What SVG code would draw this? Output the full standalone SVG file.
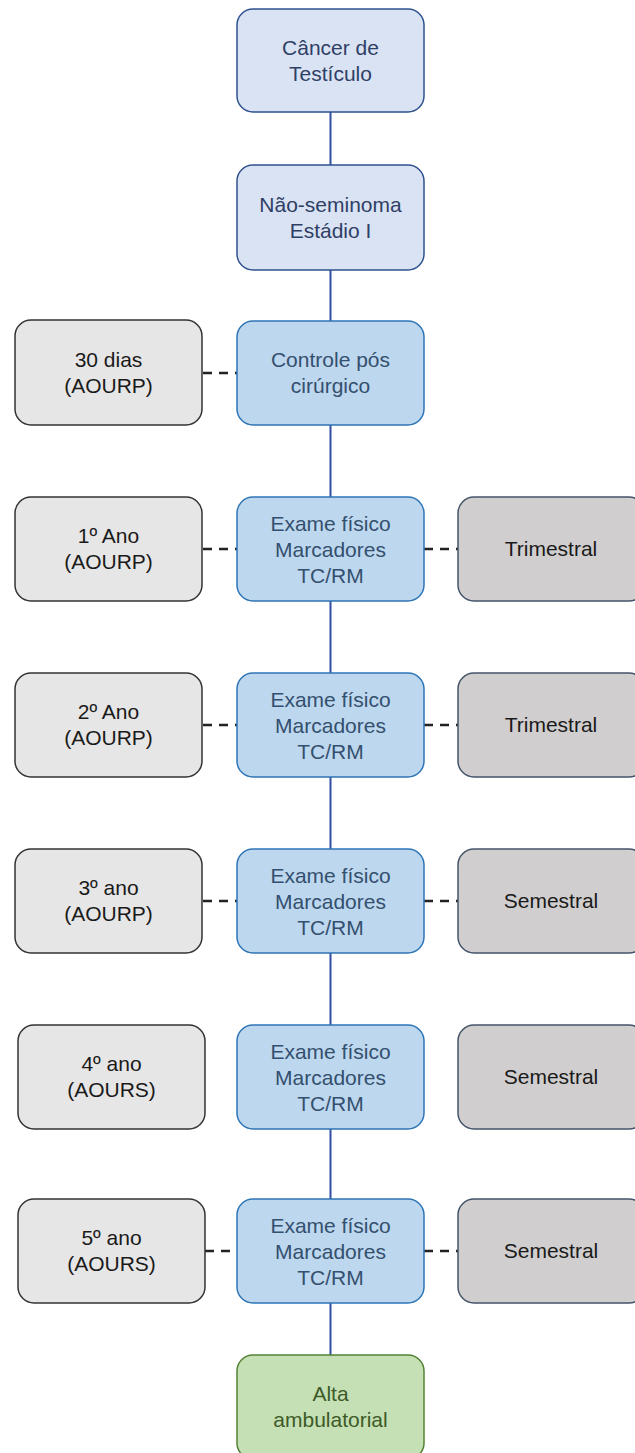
<svg xmlns="http://www.w3.org/2000/svg" width="635" height="1453" viewBox="0 0 635 1453">
<style>
text{font-family:"Liberation Sans",Arial,sans-serif;font-size:21px;text-anchor:middle}
.top rect{fill:#dae3f3;stroke:#2f528f;stroke-width:1.5}
.top text{fill:#2f3f66}
.mid rect{fill:#bdd7ee;stroke:#2e75b6;stroke-width:1.5}
.mid text{fill:#34506e}
.left rect{fill:#e7e6e6;stroke:#333333;stroke-width:1.5}
.left text{fill:#1a1a1a}
.right rect{fill:#d0cece;stroke:#44546a;stroke-width:1.5}
.right text{fill:#1a1a1a}
.end rect{fill:#c5e0b4;stroke:#548235;stroke-width:1.5}
.end text{fill:#3d5a28}
.v{stroke:#2f4f9f;stroke-width:2;fill:none}
.d{stroke:#222;stroke-width:2.5;stroke-dasharray:9 7;fill:none}
</style>
<g id="connectors">
<line class="v" x1="330.5" y1="112" x2="330.5" y2="1355"/>
<line class="d" x1="203" y1="373" x2="237" y2="373"/>
<line class="d" x1="203" y1="549" x2="237" y2="549"/>
<line class="d" x1="424" y1="549" x2="458" y2="549"/>
<line class="d" x1="203" y1="725" x2="237" y2="725"/>
<line class="d" x1="424" y1="725" x2="458" y2="725"/>
<line class="d" x1="203" y1="901" x2="237" y2="901"/>
<line class="d" x1="424" y1="901" x2="458" y2="901"/>
<line class="d" x1="205" y1="1251" x2="237" y2="1251"/>
<line class="d" x1="424" y1="1251" x2="458" y2="1251"/>
</g>
<g id="n1" class="top"><rect x="237" y="9" width="187" height="103" rx="16"/><text x="330.5" y="55">Câncer de</text><text x="330.5" y="81">Testículo</text></g>
<g id="n2" class="top"><rect x="237" y="165" width="187" height="105" rx="16"/><text x="330.5" y="212">Não-seminoma</text><text x="330.5" y="238">Estádio I</text></g>
<g id="n3" class="mid"><rect x="237" y="321" width="187" height="104" rx="16"/><text x="330.5" y="367">Controle pós</text><text x="330.5" y="393">cirúrgico</text></g>
<g id="l3" class="left"><rect x="15" y="320" width="187" height="105" rx="16"/><text x="108.5" y="367">30 dias</text><text x="108.5" y="393">(AOURP)</text></g>
<g id="n4" class="mid"><rect x="237" y="497" width="187" height="104" rx="16"/><text x="330.5" y="531">Exame físico</text><text x="330.5" y="557">Marcadores</text><text x="330.5" y="583">TC/RM</text></g>
<g id="l4" class="left"><rect x="15" y="497" width="187" height="104" rx="16"/><text x="108.5" y="543">1º Ano</text><text x="108.5" y="569">(AOURP)</text></g>
<g id="r4" class="right"><rect x="458" y="497" width="187" height="104" rx="16"/><text x="551" y="556">Trimestral</text></g>
<g id="n5" class="mid"><rect x="237" y="673" width="187" height="104" rx="16"/><text x="330.5" y="707">Exame físico</text><text x="330.5" y="733">Marcadores</text><text x="330.5" y="759">TC/RM</text></g>
<g id="l5" class="left"><rect x="15" y="673" width="187" height="104" rx="16"/><text x="108.5" y="719">2º Ano</text><text x="108.5" y="745">(AOURP)</text></g>
<g id="r5" class="right"><rect x="458" y="673" width="187" height="104" rx="16"/><text x="551" y="732">Trimestral</text></g>
<g id="n6" class="mid"><rect x="237" y="849" width="187" height="104" rx="16"/><text x="330.5" y="883">Exame físico</text><text x="330.5" y="909">Marcadores</text><text x="330.5" y="935">TC/RM</text></g>
<g id="l6" class="left"><rect x="15" y="849" width="187" height="104" rx="16"/><text x="108.5" y="895">3º ano</text><text x="108.5" y="921">(AOURP)</text></g>
<g id="r6" class="right"><rect x="458" y="849" width="187" height="104" rx="16"/><text x="551" y="908">Semestral</text></g>
<g id="n7" class="mid"><rect x="237" y="1025" width="187" height="104" rx="16"/><text x="330.5" y="1059">Exame físico</text><text x="330.5" y="1085">Marcadores</text><text x="330.5" y="1111">TC/RM</text></g>
<g id="l7" class="left"><rect x="18" y="1025" width="187" height="104" rx="16"/><text x="111.5" y="1071">4º ano</text><text x="111.5" y="1097">(AOURS)</text></g>
<g id="r7" class="right"><rect x="458" y="1025" width="187" height="104" rx="16"/><text x="551" y="1084">Semestral</text></g>
<g id="n8" class="mid"><rect x="237" y="1199" width="187" height="104" rx="16"/><text x="330.5" y="1233">Exame físico</text><text x="330.5" y="1259">Marcadores</text><text x="330.5" y="1285">TC/RM</text></g>
<g id="l8" class="left"><rect x="18" y="1199" width="187" height="104" rx="16"/><text x="111.5" y="1245">5º ano</text><text x="111.5" y="1271">(AOURS)</text></g>
<g id="r8" class="right"><rect x="458" y="1199" width="187" height="104" rx="16"/><text x="551" y="1258">Semestral</text></g>
<g id="n9" class="end"><rect x="237" y="1355" width="187" height="104" rx="16"/><text x="330.5" y="1401">Alta</text><text x="330.5" y="1427">ambulatorial</text></g>
</svg>
